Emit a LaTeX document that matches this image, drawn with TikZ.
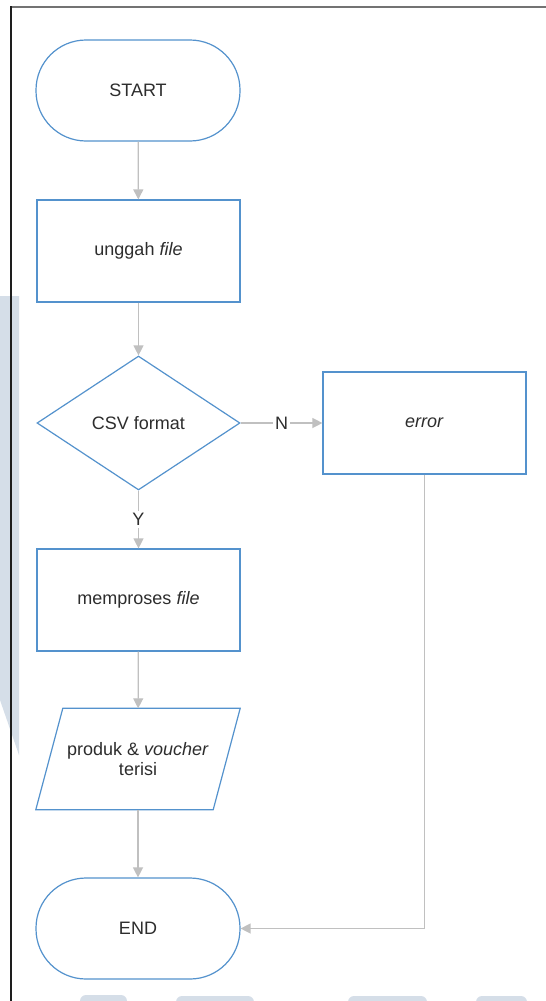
\documentclass[tikz,border=0pt]{standalone}
\usepackage{fontspec}
\setmainfont{Liberation Sans}
\usetikzlibrary{shapes.geometric,arrows.meta}
\definecolor{shapeblue}{RGB}{84,146,205}
\definecolor{conngray}{RGB}{192,192,192}
\definecolor{txt}{RGB}{45,45,45}
\definecolor{wm}{RGB}{213,222,232}
\definecolor{framegray}{RGB}{115,115,115}
\definecolor{frameblack}{RGB}{30,30,30}
\begin{document}
\begin{tikzpicture}[x=1pt,y=-1pt,
  txtfont/.style={text=txt, font=\fontsize{18}{20.5}\selectfont},
  box/.style={draw=shapeblue, line width=1.2pt, fill=white, minimum width=203pt, minimum height=102pt, inner sep=0pt, txtfont},
  term/.style={box, rounded corners=50pt, minimum width=204pt, minimum height=101pt},
  dec/.style={box, diamond, minimum width=203pt, minimum height=134pt},
  iobox/.style={minimum width=204pt, minimum height=101pt, inner sep=0pt, txtfont, align=center},
  conn/.style={draw=conngray, line width=1.3pt, -{Triangle[length=10pt,width=10pt]}},
  lbl/.style={fill=white, txtfont, inner sep=2pt},
  wmark/.style={fill=wm, draw=none}
]
\useasboundingbox[fill=white] (0,0) rectangle (546,1001);
% faint background marks
\fill[wmark] (0,296) -- (19,296) -- (19,755) -- (0,700) -- cycle;
\fill[wmark] (80,1001) [rounded corners=6pt] -- (80,995) -- (127,995) [sharp corners] -- (127,1001) -- cycle;
\fill[wmark] (176,1001) [rounded corners=6pt] -- (176,996) -- (254,996) [sharp corners] -- (254,1001) -- cycle;
\fill[wmark] (348,1001) [rounded corners=6pt] -- (348,996) -- (427,996) [sharp corners] -- (427,1001) -- cycle;
\fill[wmark] (476,1001) [rounded corners=6pt] -- (476,996) -- (527,996) [sharp corners] -- (527,1001) -- cycle;
% frame
\draw[framegray, line width=2pt] (11,7) -- (546,7);
\draw[frameblack, line width=1.3pt] (11,6) -- (11,1001);
% nodes
\node[term] (start) at (138,90.5) {START};
\node[box] (upload) at (138.5,251) {unggah \textit{file}};
\node[dec] (csv) at (138.5,423) {CSV format};
\node[box] (error) at (424.5,423) {\textit{error}};
\node[box] (proc) at (138.5,600) {memproses \textit{file}};
\node[iobox] (io) at (138,759) {produk \& \textit{voucher}\\terisi};
\draw[draw=shapeblue, line width=1.2pt] ([xshift=27pt]io.north west) -- (io.north east) -- ([xshift=-27pt]io.south east) -- (io.south west) -- cycle;
\node[term] (end) at (138,928.5) {END};
% connectors
\draw[conn] (start) -- (upload);
\draw[conn] (upload) -- (csv);
\draw[conn] (csv.east) -- node[lbl] {N} (error.west);
\draw[conn] (csv.south) -- node[lbl] {Y} (proc.north);
\draw[conn] (proc) -- (io);
\draw[conn] (io) -- (end);
\draw[conn] (error.south) |- (end.east);
\end{tikzpicture}
\end{document}
